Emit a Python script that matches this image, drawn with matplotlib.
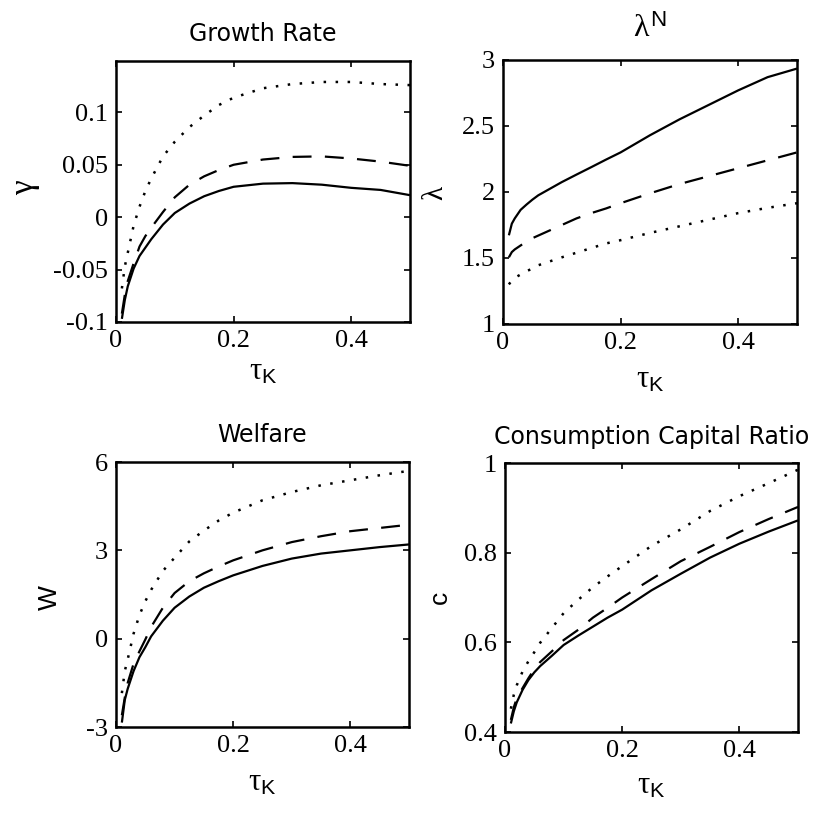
import matplotlib
matplotlib.use('Agg')
import matplotlib.pyplot as plt

# ---------------- data ----------------
tau_k = [0.01, 0.015, 0.02, 0.03, 0.04, 0.05, 0.06, 0.08, 0.1, 0.125,
         0.15, 0.175, 0.2, 0.25, 0.3, 0.35, 0.4, 0.45, 0.5]

growth_solid = [-0.097, -0.079, -0.066, -0.049, -0.037, -0.029, -0.021, -0.007, 0.004, 0.013,
                0.020, 0.025, 0.029, 0.032, 0.0325, 0.031, 0.028, 0.026, 0.021]
growth_dashed = [-0.092, -0.074, -0.061, -0.044, -0.028, -0.018, -0.010, 0.005, 0.019, 0.031,
                 0.039, 0.045, 0.050, 0.055, 0.0575, 0.058, 0.056, 0.053, 0.049]
growth_dotted = [-0.068, -0.047, -0.034, -0.008, 0.010, 0.025, 0.037, 0.058, 0.072, 0.086,
                 0.097, 0.107, 0.114, 0.123, 0.127, 0.129, 0.129, 0.127, 0.126]

lambda_solid = [1.672, 1.76, 1.80, 1.865, 1.905, 1.942, 1.975, 2.025, 2.075, 2.132,
                2.188, 2.245, 2.30, 2.43, 2.55, 2.66, 2.77, 2.87, 2.935]
lambda_dashed = [1.505, 1.545, 1.565, 1.595, 1.625, 1.65, 1.67, 1.71, 1.75, 1.80,
                 1.84, 1.875, 1.915, 1.99, 2.06, 2.12, 2.18, 2.24, 2.30]
lambda_dotted = [1.30, 1.33, 1.35, 1.375, 1.40, 1.42, 1.445, 1.475, 1.505, 1.54,
                 1.575, 1.61, 1.635, 1.69, 1.74, 1.79, 1.84, 1.88, 1.915]

welfare_solid = [-2.85, -2.08, -1.7, -1.1, -0.63, -0.29, 0.08, 0.61, 1.05, 1.43,
                 1.73, 1.95, 2.15, 2.47, 2.72, 2.89, 3.0, 3.11, 3.2]
welfare_dashed = [-2.6, -2.0, -1.5, -0.85, -0.43, -0.03, 0.4, 1.05, 1.55, 1.95,
                  2.22, 2.45, 2.66, 3.0, 3.28, 3.48, 3.65, 3.76, 3.87]
welfare_dotted = [-1.85, -1.1, -0.7, 0.17, 0.8, 1.27, 1.66, 2.3, 2.75, 3.3,
                  3.67, 4.01, 4.28, 4.7, 4.98, 5.21, 5.38, 5.55, 5.7]

cons_solid = [0.419, 0.446, 0.466, 0.494, 0.516, 0.533, 0.547, 0.570, 0.594, 0.615,
              0.635, 0.655, 0.673, 0.716, 0.753, 0.789, 0.820, 0.847, 0.872]
cons_dashed = [0.427, 0.455, 0.475, 0.498, 0.520, 0.540, 0.556, 0.580, 0.605, 0.628,
               0.655, 0.677, 0.700, 0.741, 0.781, 0.813, 0.846, 0.875, 0.902]
cons_dotted = [0.452, 0.483, 0.504, 0.535, 0.558, 0.578, 0.599, 0.632, 0.665, 0.695,
               0.723, 0.747, 0.770, 0.815, 0.852, 0.893, 0.926, 0.955, 0.985]

x_ticks = [0, 0.2, 0.4]
x_ticklabels = ['0', '0.2', '0.4']

panels = [
    dict(title='Growth Rate', ylabel='\u03b3',
         series=(growth_solid, growth_dashed, growth_dotted),
         ylim=(-0.1, 0.149), yticks=[-0.1, -0.05, 0, 0.05, 0.1],
         yticklabels=['-0.1', '-0.05', '0', '0.05', '0.1']),
    dict(title=r'$\lambda^{\mathsf{N}}$', ylabel='\u03bb',
         series=(lambda_solid, lambda_dashed, lambda_dotted),
         ylim=(1, 3), yticks=[1, 1.5, 2, 2.5, 3],
         yticklabels=['1', '1.5', '2', '2.5', '3']),
    dict(title='Welfare', ylabel='W',
         series=(welfare_solid, welfare_dashed, welfare_dotted),
         ylim=(-3, 6), yticks=[-3, 0, 3, 6],
         yticklabels=['-3', '0', '3', '6']),
    dict(title='Consumption Capital Ratio', ylabel='c',
         series=(cons_solid, cons_dashed, cons_dotted),
         ylim=(0.4, 1), yticks=[0.4, 0.6, 0.8, 1],
         yticklabels=['0.4', '0.6', '0.8', '1']),
]

# ---------------- layout / style ----------------
plt.rcParams['mathtext.fontset'] = 'custom'
plt.rcParams['mathtext.rm'] = 'Liberation Serif'
plt.rcParams['mathtext.it'] = 'Liberation Serif'
plt.rcParams['mathtext.sf'] = 'Liberation Sans'

W, H = 837, 813
fig = plt.figure(figsize=(W / 100, H / 100), dpi=100)
fig.patch.set_facecolor('white')

# pixel boxes: left, right, top, bottom
boxes = [(116, 410, 61, 322), (503, 797, 60, 324),
         (116, 409, 462, 727), (505, 798, 463, 732)]
ylabel_pos = [(-0.31, 0.513), (-0.231, 0.496), (-0.225, 0.49), (-0.222, 0.502)]
xlabel_y = [-0.222, -0.239, -0.238, -0.23]
title_y = [1.078, 1.087, 1.077, 1.07]
title_fs = [17, 23, 17, 17]
ylabel_family = ['Liberation Serif', 'Liberation Serif', 'Liberation Sans', 'Liberation Sans']
ylabel_fs = [24, 21, 19, 19]

serif = 'Liberation Serif'
tick_fs = 19

for i, p in enumerate(panels):
    l, r, t, b = boxes[i]
    ax = fig.add_axes([l / W, 1 - b / H, (r - l) / W, (b - t) / H])
    s, d, o = p['series']
    ax.plot(tau_k, s, color='black', lw=1.6, solid_capstyle='butt',
            solid_joinstyle='round')
    ax.plot(tau_k, d, color='black', lw=1.6, linestyle=(0, (8.5, 6)))
    ax.plot(tau_k, o, color='black', lw=1.8, linestyle=(0, (1, 3.8)))

    ax.set_xlim(0, 0.5)
    ax.set_ylim(*p['ylim'])
    ax.set_xticks(x_ticks)
    ax.set_xticklabels(x_ticklabels, fontfamily=serif, fontsize=tick_fs)
    ax.set_yticks(p['yticks'])
    ax.set_yticklabels(p['yticklabels'], fontfamily=serif, fontsize=tick_fs)
    ax.tick_params(direction='in', length=4, width=1.2, top=True, right=True,
                   pad=6, colors='black')
    for sp in ax.spines.values():
        sp.set_linewidth(1.8)
        sp.set_color('black')

    ax.set_title(p['title'], fontfamily='DejaVu Sans', fontsize=title_fs[i],
                 y=title_y[i], pad=0, va='baseline')
    ax.set_xlabel(r'$\tau_{\mathsf{K}}$', fontsize=22, va='baseline')
    ax.xaxis.set_label_coords(0.5, xlabel_y[i])
    ax.set_ylabel(p['ylabel'], fontfamily=ylabel_family[i], fontsize=ylabel_fs[i],
                  va='center')
    ax.yaxis.set_label_coords(*ylabel_pos[i])

fig.savefig('out.png', dpi=100, facecolor='white')
